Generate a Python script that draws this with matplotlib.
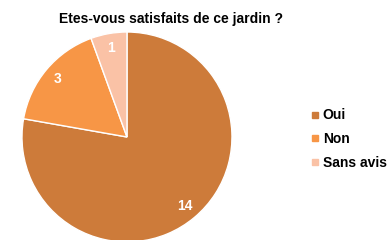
import matplotlib
matplotlib.use('Agg')
import matplotlib.pyplot as plt
from matplotlib.lines import Line2D

# data
categories = ['Oui', 'Non', 'Sans avis']
counts = [14, 3, 1]
colors = ['#CD7B3A', '#F79646', '#FAC2A6']
title = 'Etes-vous satisfaits de ce jardin ?'

plt.rcParams['font.family'] = ['Liberation Sans', 'DejaVu Sans']

fig = plt.figure(figsize=(3.87, 2.40), dpi=100)
ax = fig.add_axes([0.0568, -0.0083, 0.5426, 0.875])

wedges, texts = ax.pie(counts, colors=colors, startangle=90, counterclock=False,
                       labels=[str(c) for c in counts], labeldistance=0.86,
                       radius=1.0, wedgeprops=dict(edgecolor='white', linewidth=1))
for t in texts:
    t.set_color('white')
    t.set_fontweight('bold')
    t.set_fontsize(10)
    t.set_ha('center')
    t.set_va('center')
ax.set_xlim(-1, 1)
ax.set_ylim(-1, 1)
ax.set_aspect('equal')

fig.text(0.443, 0.92, title, ha='center', va='center', fontsize=10, fontweight='bold')

handles = [Line2D([0], [0], marker='s', linestyle='none', markersize=5,
                  markerfacecolor=c, markeredgecolor=c) for c in colors]
leg = fig.legend(handles, categories, loc='center left', bbox_to_anchor=(0.80, 0.42),
                 frameon=False, handletextpad=0.15, labelspacing=0.7,
                 prop=dict(weight='bold', size=10), handlelength=0.8,
                 borderaxespad=0, borderpad=0)

fig.savefig('out.png', dpi=100)
